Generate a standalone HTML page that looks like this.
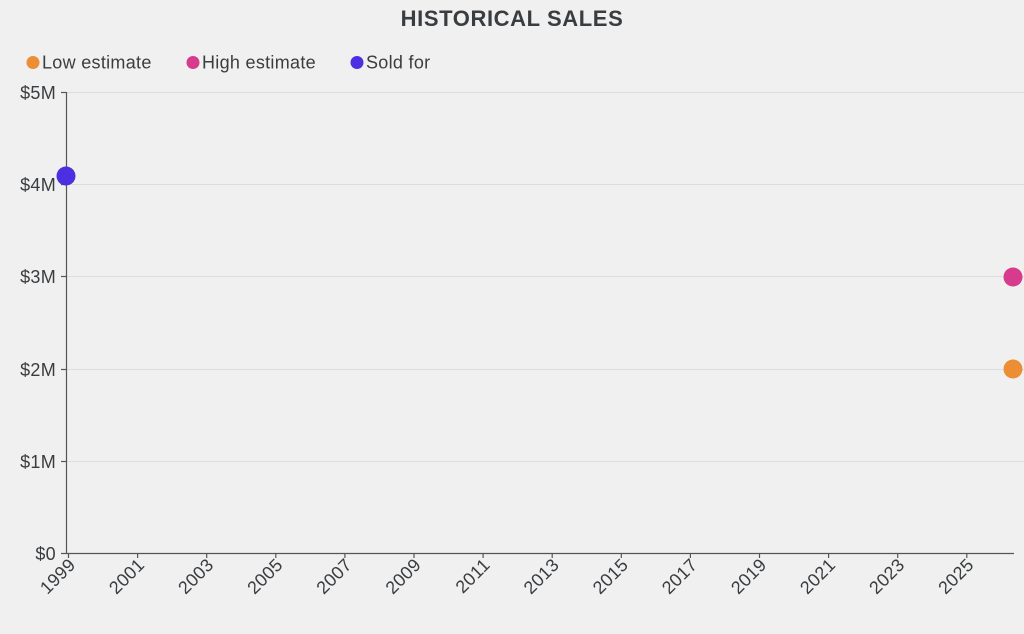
<!DOCTYPE html>
<html><head><meta charset="utf-8"><style>
body{margin:0;background:#f0f0f0;}
svg{display:block;font-family:"Liberation Sans",sans-serif;}
</style></head><body>
<svg width="1024" height="634" viewBox="0 0 1024 634">
<rect width="1024" height="634" fill="#f0f0f0"/>
<text x="512" y="26" text-anchor="middle" font-size="22" font-weight="bold" letter-spacing="0.6" fill="#3a3d40">HISTORICAL SALES</text>
<g font-size="18" fill="#3a3d40" letter-spacing="0.3">
<circle cx="33" cy="62.5" r="6.5" fill="#ec8e35"/><text x="42" y="68.5">Low estimate</text>
<circle cx="193" cy="62.5" r="6.5" fill="#d63b8c"/><text x="202" y="68.5">High estimate</text>
<circle cx="357" cy="62.5" r="6.5" fill="#4a30e0"/><text x="366" y="68.5">Sold for</text>
</g>
<g stroke="#dddddd" stroke-width="1">
<line x1="67" y1="92.5" x2="1024" y2="92.5"/>
<line x1="67" y1="184.5" x2="1024" y2="184.5"/>
<line x1="67" y1="276.5" x2="1024" y2="276.5"/>
<line x1="67" y1="369.5" x2="1024" y2="369.5"/>
<line x1="67" y1="461.5" x2="1024" y2="461.5"/>
</g>
<g stroke="#555" stroke-width="1.2">
<line x1="66.5" y1="92" x2="66.5" y2="553"/>
<line x1="66" y1="553.5" x2="1014" y2="553.5"/>
<line x1="61" y1="92.5" x2="66" y2="92.5"/>
<line x1="61" y1="184.5" x2="66" y2="184.5"/>
<line x1="61" y1="276.5" x2="66" y2="276.5"/>
<line x1="61" y1="369.5" x2="66" y2="369.5"/>
<line x1="61" y1="461.5" x2="66" y2="461.5"/>
<line x1="61" y1="553.5" x2="66" y2="553.5"/>
</g>
<g font-size="18" fill="#3a3d40" text-anchor="end" letter-spacing="0.3">
<text x="56" y="99">$5M</text>
<text x="56" y="191">$4M</text>
<text x="56" y="283">$3M</text>
<text x="56" y="376">$2M</text>
<text x="56" y="468">$1M</text>
<text x="56" y="560">$0</text>
</g>
<g id="xt" stroke="#555" stroke-width="1.2"></g>
<g id="xl" font-size="18" fill="#3a3d40" text-anchor="end" letter-spacing="0.3"></g>
<circle cx="66" cy="176" r="9.5" fill="#4a30e0"/>
<circle cx="1013" cy="277" r="9.5" fill="#d63b8c"/>
<circle cx="1013" cy="369" r="9.5" fill="#ec8e35"/>
</svg>
<script>
var t=document.getElementById('xt'),l=document.getElementById('xl'),ns='http://www.w3.org/2000/svg';
for(var i=0;i<14;i++){var x=68.5+i*69.1;
var ln=document.createElementNS(ns,'line');ln.setAttribute('x1',x);ln.setAttribute('x2',x);ln.setAttribute('y1',553);ln.setAttribute('y2',558);t.appendChild(ln);
var tx=document.createElementNS(ns,'text');tx.setAttribute('transform','translate('+(x+8)+',566) rotate(-45)');tx.textContent=1999+2*i;l.appendChild(tx);}
</script>
</body></html>
